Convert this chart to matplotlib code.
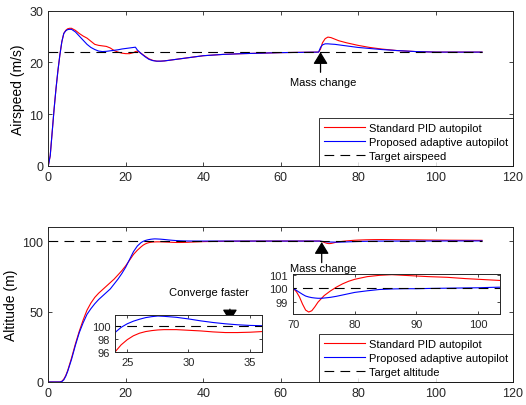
import numpy as np
import matplotlib
matplotlib.use('Agg')
import matplotlib.pyplot as plt

plt.rcParams.update({
    "font.family": ["Liberation Sans", "DejaVu Sans"],
    "axes.edgecolor": "#262626",
    "xtick.color": "#262626",
    "ytick.color": "#262626",
    "lines.scale_dashes": False,
})

# ---------------------------------------------------------------------------------------------- #
# Data

# Airspeed (m/s)
t_air = [0, 0.5, 1, 1.5, 2, 2.5, 3, 3.5, 4, 4.5, 5, 5.5, 6, 7, 8, 9, 10, 11, 12, 13,
         14, 15, 16, 17, 18, 19, 20, 21, 22, 22.5, 23, 24, 25, 26, 27, 28, 29, 30, 32, 35,
         40, 45, 50, 55, 60, 65, 69.8, 70.3, 70.8, 71.5, 72.2, 73, 74, 75, 77, 80, 83, 86, 90, 95,
         100, 105, 112]
air_pid = [0, 2, 6.5, 11, 15, 18.5, 21.5, 24, 25.6, 26.2, 26.5, 26.6, 26.6, 26.2, 25.6, 25.1, 24.7, 24.1, 23.5, 23.3,
           23.2, 23.1, 22.8, 22.3, 22.0, 21.8, 21.7, 21.7, 21.9, 22.1, 22.2, 21.75, 21.2, 20.7, 20.4, 20.25, 20.25, 20.3, 20.5, 20.8,
           21.3, 21.55, 21.7, 21.8, 21.9, 21.95, 22.0, 22.6, 23.8, 24.6, 24.9, 24.8, 24.5, 24.2, 23.8, 23.3, 22.9, 22.6, 22.3, 22.1,
           22.0, 22.0, 22.0]
air_adaptive = [0, 2, 6.5, 11, 15, 18.5, 21.5, 24, 25.6, 26.1, 26.35, 26.4, 26.4, 25.9, 25.1, 24.3, 23.5, 22.9, 22.5, 22.2,
                22.1, 22.15, 22.25, 22.35, 22.45, 22.6, 22.7, 22.8, 22.9, 22.95, 22.4, 21.7, 21.1, 20.6, 20.35, 20.25, 20.25, 20.3, 20.5, 20.8,
                21.3, 21.55, 21.7, 21.8, 21.9, 21.95, 22.0, 22.9, 23.4, 23.6, 23.6, 23.55, 23.5, 23.4, 23.2, 22.9, 22.7, 22.5, 22.3, 22.1,
                22.0, 22.0, 22.0]
target_airspeed = 22

# Altitude (m)
t_alt = [0, 1, 2, 3, 3.5, 4, 4.5, 5, 6, 7, 8, 9, 10, 11, 12, 13, 14, 15, 16, 17,
         18, 19, 20, 21, 22, 23, 24, 24.5, 25, 25.5, 26, 26.5, 27, 27.5, 28, 29, 30, 31, 32, 33,
         34, 35, 36, 38, 40, 45, 50, 55, 60, 65, 70, 70.5, 71, 71.5, 72, 72.5, 73, 73.5, 74, 74.5,
         75, 76, 77, 78, 79, 80, 82, 84, 86, 88, 90, 92, 95, 98, 100, 102, 104, 108, 112]
alt_pid = [0, 0, 0, 0, 0.5, 2, 4.5, 8, 17, 27, 36, 44, 51, 56, 60, 63, 65.5, 68, 70.5, 73,
           76, 79, 82.5, 86.5, 90.5, 93.5, 96, 97.1, 97.9, 98.5, 98.9, 99.15, 99.3, 99.4, 99.45, 99.45, 99.35, 99.25, 99.1, 99.0,
           99.0, 99.05, 99.15, 99.4, 99.6, 99.85, 99.95, 100, 100, 100, 100, 99.75, 99.35, 98.8, 98.35, 98.2, 98.3, 98.6, 98.95, 99.2,
           99.45, 99.8, 100.1, 100.35, 100.55, 100.7, 100.9, 101.0, 101.05, 101.0, 100.95, 100.9, 100.85, 100.75, 100.7, 100.65, 100.6, 100.55, 100.5]
alt_adaptive = [0, 0, 0, 0, 0.3, 1.5, 4, 7.5, 16, 26, 35, 42, 48, 52, 55.5, 58.5, 61, 63.5, 66, 69.5,
                73, 77, 81.5, 87, 92.5, 96.5, 99.0, 99.8, 100.35, 100.75, 101.05, 101.3, 101.45, 101.55, 101.5, 101.35, 101.1, 100.8, 100.55, 100.35,
                100.2, 100.1, 100.05, 100.0, 100, 100, 100, 100, 100, 100, 100, 99.85, 99.7, 99.55, 99.42, 99.35, 99.3, 99.27, 99.25, 99.25,
                99.27, 99.32, 99.4, 99.5, 99.6, 99.7, 99.82, 99.92, 99.96, 99.98, 99.98, 100.0, 100.02, 100.04, 100.05, 100.08, 100.1, 100.1, 100.1]
target_altitude = 100

labels_air = ['Standard PID autopilot', 'Proposed adaptive autopilot', 'Target airspeed']
labels_alt = ['Standard PID autopilot', 'Proposed adaptive autopilot', 'Target altitude']

# ---------------------------------------------------------------------------------------------- #

RED = '#ff0000'
BLUE = '#0000ff'
LW = 0.8
DASH = (7, 4.5)


def style_axes(ax, fs=9, tl=3):
    ax.tick_params(direction='in', top=True, right=True, labelsize=fs, length=tl, width=0.6)
    for s in ax.spines.values():
        s.set_linewidth(0.7)


def plot_lines(ax, t, a, b, target, labels=None):
    la = labels if labels else [None] * 3
    ax.plot(t, a, color=RED, lw=LW, label=la[0])
    ax.plot(t, b, color=BLUE, lw=LW, label=la[1])
    ax.plot([t[0], t[-1]], [target, target], color='k', lw=LW, dashes=DASH, label=la[2])


def add_legend(ax):
    leg = ax.legend(loc='lower right', fontsize=8, borderaxespad=0, fancybox=False,
                    handlelength=3.7, handletextpad=0.35, labelspacing=0.38, borderpad=0.45)
    leg.get_frame().set_edgecolor('k')
    leg.get_frame().set_linewidth(0.7)


def arrow(ax, tip, tail):
    ax.annotate('', xy=tip, xytext=tail,
                arrowprops=dict(arrowstyle='-|>,head_length=0.9,head_width=0.55',
                                color='k', lw=0.9, shrinkA=0, shrinkB=0, mutation_scale=8))


fig = plt.figure(figsize=(5.26, 4.06), dpi=100)

# Airspeed plot
ax1 = fig.add_axes([0.0918, 0.5887, 0.8835, 0.3825])
plot_lines(ax1, t_air, air_pid, air_adaptive, target_airspeed, labels_air)
ax1.set_xlim(0, 120)
ax1.set_ylim(0, 30)
ax1.set_xticks(np.arange(0, 121, 20))
ax1.set_yticks([0, 10, 20, 30])
ax1.set_ylabel('Airspeed (m/s)', fontsize=10, labelpad=3)
style_axes(ax1)
add_legend(ax1)
arrow(ax1, (70.3, 22.0), (70.3, 18.1))
ax1.text(71.0, 16.2, 'Mass change', fontsize=8, ha='center', va='center')

# Altitude plot
ax2 = fig.add_axes([0.0918, 0.0567, 0.8835, 0.3818])
plot_lines(ax2, t_alt, alt_pid, alt_adaptive, target_altitude, labels_alt)
ax2.set_xlim(0, 120)
ax2.set_ylim(0, 110)
ax2.set_xticks(np.arange(0, 121, 20))
ax2.set_yticks([0, 50, 100])
ax2.set_ylabel('Altitude (m)', fontsize=10, labelpad=3)
style_axes(ax2)
add_legend(ax2)
arrow(ax2, (70.6, 99.3), (70.6, 84.7))
ax2.text(71.0, 77.5, 'Mass change', fontsize=8, ha='center', va='bottom')
arrow(ax2, (46.9, 43.0), (46.9, 51.7))
ax2.text(41.5, 63.5, 'Converge faster', fontsize=8, ha='center', va='center')

# Inset: convergence
ax3 = fig.add_axes([0.2186, 0.1305, 0.2795, 0.0911])
plot_lines(ax3, t_alt, alt_pid, alt_adaptive, target_altitude)
ax3.set_xlim(24, 36)
ax3.set_ylim(96, 101.7)
ax3.set_xticks([25, 30, 35])
ax3.set_yticks([96, 98, 100])
style_axes(ax3, fs=8, tl=2)

# Inset: mass change
ax4 = fig.add_axes([0.5565, 0.2241, 0.3941, 0.0985])
plot_lines(ax4, t_alt, alt_pid, alt_adaptive, target_altitude)
ax4.set_xlim(69.9, 103.6)
ax4.set_ylim(98.05, 101.1)
ax4.set_xticks([70, 80, 90, 100])
ax4.set_yticks([99, 100, 101])
style_axes(ax4, fs=8, tl=2)

plt.savefig('out.png', dpi=100)
